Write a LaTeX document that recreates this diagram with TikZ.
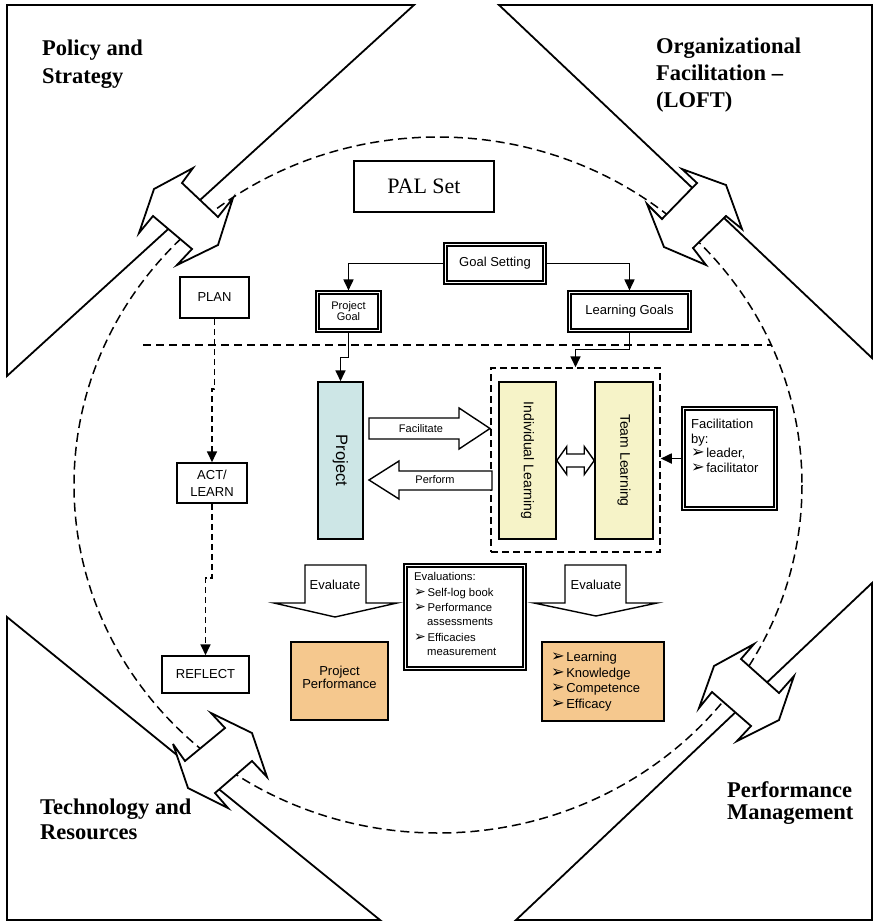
\documentclass[tikz,border=0pt]{standalone}
\usepackage{fontspec}
\setmainfont{Liberation Serif}
\setsansfont{Liberation Sans}
\newfontfamily\dingfont{DejaVu Sans}
\usetikzlibrary{arrows.meta,calc}

\definecolor{projblue}{RGB}{205,230,230}
\definecolor{learnyellow}{RGB}{246,243,200}
\definecolor{perforange}{RGB}{245,200,142}

% arrowhead bullet used in the lists
\newcommand{\arrbul}{{\dingfont\fontsize{1.25em}{1em}\selectfont\char"27A2}\hspace{1.5pt}}

\begin{document}
\begin{tikzpicture}[x=1pt,y=-1pt,
  frame/.style={draw=black,line width=1.8pt,line join=miter},
  bigarrow/.style={draw=black,fill=white,line width=1.8pt,line join=miter,miter limit=6},
  blk/.style={draw=black,fill=white,line width=1.4pt,line join=miter},
  box/.style={draw=black,line width=1.5pt,inner sep=0pt,align=center,
    font=\sffamily\fontsize{13}{15}\selectfont},
  dbl/.style={box,line width=1.1pt,
    path picture={\draw[line width=2.1pt]
      ([shift={(3.4pt,-3.4pt)}]path picture bounding box.north west) rectangle
      ([shift={(-3.4pt,3.4pt)}]path picture bounding box.south east);}},
  corner/.style={anchor=north west,align=left,inner sep=0pt},
  txt/.style={inner sep=0pt,align=center},
  conn/.style={line width=1.7pt,-{Triangle[length=11pt,width=10pt]}},
  dconn/.style={conn,dash pattern=on 6pt off 4pt},
]
\useasboundingbox (0,0) rectangle (874,922);
\fill[white] (0,0) rectangle (874,922);

% four corner fields
\draw[frame] (7,5) -- (414,5) -- (7,376) -- cycle;
\draw[frame] (499,5) -- (872,5) -- (872,358) -- cycle;
\draw[frame] (7,617) -- (7,920) -- (380,920) -- cycle;
\draw[frame] (872,583) -- (872,920) -- (516,920) -- cycle;

% dashed boundary of the PAL set
\draw[line width=1.5pt,dash pattern=on 9pt off 5pt] (438,485) ellipse [x radius=364, y radius=348];

% double-headed arrows linking the fields with the PAL set
\draw[bigarrow] (193,168) -- (182,183) -- (218,217) -- (233,198) -- (218,245) -- (177,265)
  -- (192,249) -- (153,216) -- (139,233) -- (154,189) -- cycle;
\draw[bigarrow] (682,169) -- (697,183) -- (662,219) -- (647,204) -- (664,247) -- (706,265)
  -- (693,248) -- (726,216) -- (742,229) -- (726,185) -- cycle;
\draw[bigarrow] (211,713) -- (225,728) -- (185,761) -- (173,744) -- (188,788) -- (228,808)
  -- (215,793) -- (252,761) -- (267,777) -- (252,733) -- cycle;
\draw[bigarrow] (754,644) -- (741,659) -- (779,693) -- (794,676) -- (779,720) -- (737,741)
  -- (751,726) -- (712,692) -- (699,708) -- (714,666) -- cycle;

% field titles
\node[corner,font=\bfseries\fontsize{22.5}{28}\selectfont] (policy) at (42,40) {Policy and\\Strategy};
\node[corner,font=\bfseries\fontsize{22.5}{27}\selectfont] (loft) at (656,38) {Organizational\\Facilitation –\\(LOFT)};
\node[corner,font=\bfseries\fontsize{22.5}{24.5}\selectfont] (tech) at (40,799) {Technology and\\Resources};
\node[corner,font=\bfseries\fontsize{22.5}{22}\selectfont] (perfm) at (727,781) {Performance\\Management};

% planning level
\node[box,minimum width=140,minimum height=51,font=\fontsize{22}{26}\selectfont] (pal) at (424,186.5) {PAL Set};
\node[dbl,minimum width=102,minimum height=41] (goal) at (495,263.5) {Goal Setting};
\node[dbl,minimum width=65,minimum height=41,font=\sffamily\fontsize{11}{11}\selectfont] (pgoal) at (348.5,311.5) {Project\\Goal};
\node[dbl,minimum width=123,minimum height=41] (lgoals) at (629.5,311.5) {Learning Goals};

% separation line
\coordinate (sepL) at (143,345);
\coordinate (sepR) at (772,345);
\draw[line width=1.5pt,dash pattern=on 8pt off 5pt] (sepL) -- (sepR);

% cycle
\node[box,minimum width=69,minimum height=41] (plan) at (214.5,297.5) {PLAN};
\node[box,minimum width=70,minimum height=40,font=\sffamily\fontsize{13}{16.7}\selectfont] (act) at (212,483) {ACT/\\LEARN};
\node[box,minimum width=87,minimum height=37] (reflect) at (205.5,674.5) {REFLECT};

% project and learning
\node[box,fill=projblue,minimum width=45,minimum height=157] (project) at (340.5,460.5) {};
\node[txt,rotate=-90,font=\sffamily\fontsize{16.5}{18}\selectfont] (projectlbl) at (project.center) {Project};

\node[draw=black,line width=1.5pt,dash pattern=on 7pt off 4pt,minimum width=169,minimum height=184,inner sep=0pt] (dbox) at (575.5,460) {};
\node[box,fill=learnyellow,minimum width=57,minimum height=157] (il) at (527.5,460.5) {};
\node[txt,rotate=-90,font=\sffamily\fontsize{14}{16}\selectfont] (illbl) at (il.center) {Individual Learning};
\node[box,fill=learnyellow,minimum width=58,minimum height=157] (tl) at (624,460.5) {};
\node[txt,rotate=-90,font=\sffamily\fontsize{14}{16}\selectfont] (tllbl) at (tl.center) {Team Learning};

\draw[blk] (il.east) -- ++(10,-14) -- ++(0,7.5) -- ($(tl.west)+(-10,-6.5)$) -- ++(0,-7.5)
  -- (tl.west) -- ++(-10,14) -- ++(0,-7.5) -- ($(il.east)+(10,6.5)$) -- ++(0,7.5) -- cycle;

% facilitate / perform arrows
\draw[blk] (369,418) -- (459,418) -- (459,408) -- (490,428.5) -- (459,449) -- (459,439) -- (369,439) -- cycle;
\node[txt,font=\sffamily\fontsize{11}{12}\selectfont] (facilbl) at (421,428.5) {Facilitate};
\draw[blk] (492,471) -- (399,471) -- (399,461) -- (369,480) -- (399,499) -- (399,490) -- (492,490) -- cycle;
\node[txt,font=\sffamily\fontsize{11}{12}\selectfont] (perflbl) at (435,479.5) {Perform};

% facilitation box
\node[dbl,minimum width=95,minimum height=103] (facil) at (729.5,458.5) {};
\node[corner,font=\sffamily\fontsize{13}{14.5}\selectfont] (faciltxt) at (691,419) {Facilitation\\by:\\\arrbul leader,\\\arrbul facilitator};

% evaluation
\draw[blk] (305,565) -- (366,565) -- (366,603) -- (397,603) -- (335,617) -- (274,603) -- (305,603) -- cycle;
\node[txt,font=\sffamily\fontsize{13}{15}\selectfont] (evall) at (335,584.5) {Evaluate};
\draw[blk] (565,565) -- (626,565) -- (626,603) -- (657,603) -- (596,616) -- (534,603) -- (565,603) -- cycle;
\node[txt,font=\sffamily\fontsize{13}{15}\selectfont] (evalr) at (596,585) {Evaluate};

\node[dbl,minimum width=122,minimum height=106] (evals) at (465,617) {};
\node[corner,font=\sffamily\fontsize{11.3}{13.5}\selectfont] (evalstxt) at (414,572)
  {Evaluations:\\[3pt]\arrbul Self-log book\\[1.5pt]\arrbul Performance\\\hspace*{13pt}assessments\\[3pt]\arrbul Efficacies\\\hspace*{13pt}measurement};

\node[box,fill=perforange,minimum width=97,minimum height=78] (pperf) at (339.5,681) {};
\node[txt,font=\sffamily\fontsize{13}{13.5}\selectfont] (pperflbl) at (339.5,677.5) {Project\\Performance};
\node[box,fill=perforange,minimum width=122,minimum height=79] (lbox) at (603,681.5) {};
\node[corner,font=\sffamily\fontsize{13}{15.5}\selectfont] (lboxtxt) at (551,652)
  {\arrbul Learning\\\arrbul Knowledge\\\arrbul Competence\\\arrbul Efficacy};

% connectors
\draw[conn] (goal.west) -| (pgoal.north);
\draw[conn] (goal.east) -| (lgoals.north);
\draw[conn] (pgoal.south) -- ++(0,25) -| (project.north);
\draw[conn] (lgoals.south) -- ++(0,17) -| (dbox.north);
\draw[dconn] (plan.south) -- ++(0,70) -| (act.north);
\draw[dconn] (act.south) -- ++(0,74) -| (reflect.north);
\draw[conn] (facil.west) -- (facil.west -| dbox.east);
\end{tikzpicture}
\end{document}
